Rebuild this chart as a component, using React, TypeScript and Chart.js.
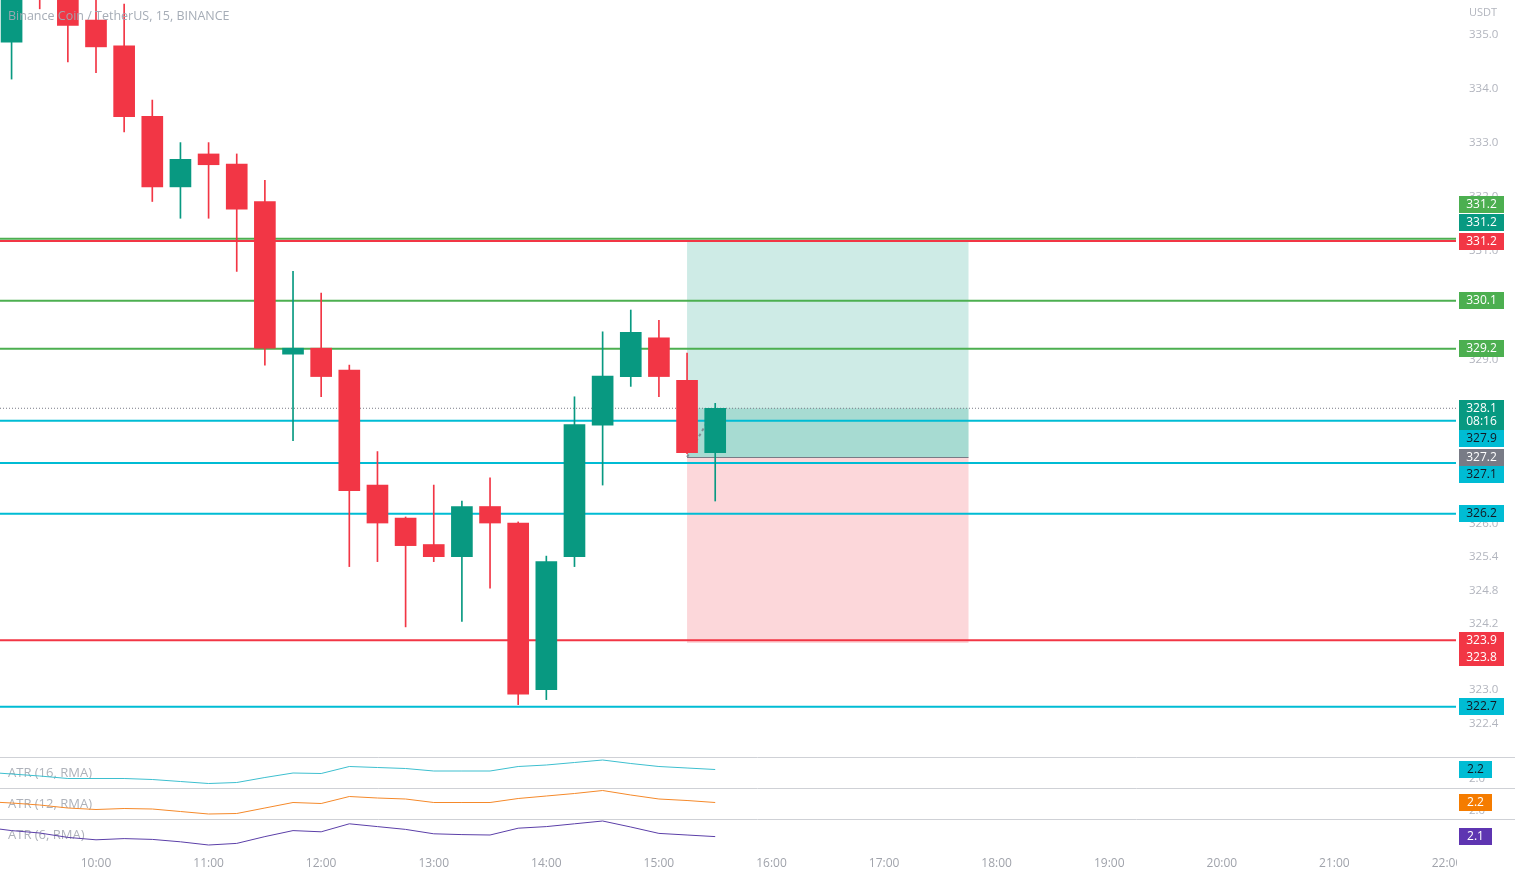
import React, { useEffect, useRef } from "react";
import { Chart, registerables } from "chart.js";

Chart.register(...registerables);

// ---------------- data ----------------
const candleTimes = ["09:15","09:30","09:45","10:00","10:15","10:30","10:45","11:00","11:15","11:30","11:45","12:00","12:15","12:30","12:45","13:00","13:15","13:30","13:45","14:00","14:15","14:30","14:45","15:00","15:15","15:30"];
const opens  = [334.87,336.05,335.85,335.28,334.80,333.49,332.18,332.79,332.60,331.91,329.10,329.21,328.81,326.71,326.11,325.63,325.41,326.32,326.02,323.01,325.41,327.80,328.69,329.40,328.62,327.30];
const highs  = [336.10,336.20,335.95,335.72,335.58,333.79,333.00,333.00,332.79,332.30,330.62,330.22,328.90,327.32,326.13,326.71,326.42,326.84,326.04,325.42,328.32,329.51,329.91,329.72,329.12,328.20];
const lows   = [334.18,335.49,334.50,334.30,333.20,331.91,331.60,331.60,330.62,328.90,327.52,328.32,325.23,325.32,324.14,325.32,324.24,324.84,322.74,322.83,325.23,326.71,328.51,328.32,327.28,326.42];
const closes = [335.75,335.75,335.18,334.78,333.48,332.18,332.69,332.59,331.77,329.21,329.21,328.69,326.61,326.02,325.61,325.41,326.32,326.02,322.93,325.32,327.81,328.70,329.50,328.69,327.30,328.11];

const atrTimes = ["09:00", ...candleTimes];
const atr16 = [2.14,2.10,2.06,2.01,2.01,2.01,1.99,1.95,1.91,1.93,2.03,2.12,2.11,2.25,2.23,2.21,2.16,2.16,2.16,2.25,2.28,2.33,2.38,2.31,2.25,2.22,2.19];
const atr12 = [2.19,2.16,2.12,2.06,2.03,2.05,2.04,1.99,1.94,1.95,2.06,2.17,2.15,2.29,2.26,2.24,2.17,2.17,2.17,2.25,2.30,2.35,2.41,2.32,2.24,2.21,2.17];
const atr6  = [2.35,2.26,2.20,2.09,2.03,2.06,2.04,1.98,1.90,1.94,2.11,2.26,2.23,2.43,2.36,2.29,2.18,2.16,2.15,2.32,2.36,2.43,2.50,2.35,2.19,2.15,2.11];

const hourTicks = ["10:00","11:00","12:00","13:00","14:00","15:00","16:00","17:00","18:00","19:00","20:00","21:00","22:00"];
const priceTicks = [335.0, 334.0, 333.0, 332.0, 331.0, 329.0, 326.0, 325.4, 324.8, 324.2, 323.0, 322.4];
const atrTicks = [2.0];

const greenLevels = [331.22, 330.08, 329.2];
const redLevels = [331.18, 323.9];
const cyanLevels = [327.88, 327.11, 326.19, 322.7];

const targetPrice = 331.2;
const entryPrice = 327.22;
const stopPrice = 323.849;
const positionStart = "15:15";
const positionEnd = "17:45";
const countdown = "08:16";

const titleText = "Binance Coin / TetherUS, 15, BINANCE";
const currencyText = "USDT";
const atrNames = ["ATR (16, RMA)", "ATR (12, RMA)", "ATR (6, RMA)"];

// ---------------- style ----------------
const W = 1515;
const H = 877;
const UP = "#089981";
const DOWN = "#f23645";
const GREEN = "#4caf50";
const CYAN = "#00bcd4";
const GRAY = "#787b86";
const DARK = "#131722";
const C16 = "#3dbfcf";
const C12 = "#f5892a";
const C6 = "#5b3fa8";
const FONT = "'Open Sans', sans-serif";
const TICK_COLOR = "#b2b5be";

const baseMin = (() => { const [h, m] = candleTimes[0].split(":").map(Number); return h * 60 + m; })();
const toIdx = (t: string) => { const [h, m] = t.split(":").map(Number); return (h * 60 + m - baseMin) / 15; };

const X_MIN = -0.411;
const X_MAX = 51.32;

const zeroPad = (s: any) => {
  s.paddingTop = 0;
  s.paddingBottom = 0;
  s.paddingLeft = 0;
  s.paddingRight = 0;
};

export default function App() {
  const ref = useRef<HTMLCanvasElement>(null);

  useEffect(() => {
    const canvas = ref.current!;
    const idxs = candleTimes.map(toIdx);
    const colors = idxs.map((_, i) => (closes[i] >= opens[i] ? UP : DOWN));
    const last = candleTimes.length - 1;
    const current = closes[last];

    const hline = (v: number, color: string, extra: any = {}) => ({
      type: "line",
      data: [{ x: X_MIN, y: v }, { x: X_MAX, y: v }],
      borderColor: color,
      borderWidth: 2,
      pointRadius: 0,
      order: 4,
      yAxisID: "y",
      ...extra,
    });
    const atrLine = (vals: number[], color: string, axis: string) => ({
      type: "line",
      data: atrTimes.map((t, i) => ({ x: toIdx(t), y: vals[i] })),
      borderColor: color,
      borderWidth: 1,
      pointRadius: 0,
      tension: 0,
      order: 3,
      yAxisID: axis,
    });

    const overlay = {
      id: "overlay",
      beforeDatasetsDraw(chart: any) {
        const { ctx, chartArea } = chart;
        const x = chart.scales.x;
        const y = chart.scales.y;
        // position box
        ctx.save();
        ctx.beginPath();
        ctx.rect(chartArea.left, y.top, chartArea.right - chartArea.left, y.bottom - y.top);
        ctx.clip();
        const x0 = x.getPixelForValue(toIdx(positionStart));
        const x1 = x.getPixelForValue(toIdx(positionEnd));
        const yT = y.getPixelForValue(targetPrice);
        const yE = y.getPixelForValue(entryPrice);
        const yS = y.getPixelForValue(stopPrice);
        const yC = y.getPixelForValue(current);
        ctx.fillStyle = "rgba(8,153,129,0.2)";
        ctx.fillRect(x0, yT, x1 - x0, yE - yT);
        ctx.fillStyle = "rgba(242,54,69,0.2)";
        ctx.fillRect(x0, yE, x1 - x0, yS - yE);
        ctx.fillStyle = "rgba(8,153,129,0.2)";
        ctx.fillRect(x0, Math.min(yC, yE), x1 - x0, Math.abs(yE - yC));
        ctx.strokeStyle = GRAY;
        ctx.lineWidth = 1;
        ctx.beginPath();
        ctx.moveTo(x0, Math.round(yE) + 0.5);
        ctx.lineTo(x1, Math.round(yE) + 0.5);
        ctx.stroke();
        ctx.restore();

        // pane separators + ATR titles
        ctx.save();
        ctx.strokeStyle = "#cfd1d6";
        ctx.lineWidth = 1;
        const panes = ["atr16", "atr12", "atr6"];
        panes.forEach((id, k) => {
          const s = chart.scales[id];
          ctx.beginPath();
          ctx.moveTo(0, Math.round(s.top) + 0.5);
          ctx.lineTo(W, Math.round(s.top) + 0.5);
          ctx.stroke();
          ctx.fillStyle = "rgba(165,170,178,0.9)";
          ctx.font = `13px ${FONT}`;
          ctx.textAlign = "left";
          ctx.textBaseline = "middle";
          ctx.fillText(atrNames[k], 8, s.top + 16);
        });
        ctx.restore();
      },
      afterDraw(chart: any) {
        const { ctx, chartArea } = chart;
        const y = chart.scales.y;
        ctx.save();
        // cover x labels overflowing into the price-scale corner
        ctx.fillStyle = "#ffffff";
        ctx.fillRect(chartArea.right + 1, chartArea.bottom + 1, W - chartArea.right, H - chartArea.bottom);

        // title
        ctx.font = `12.5px ${FONT}`;
        ctx.fillStyle = "rgba(160,168,178,0.95)";
        ctx.textAlign = "left";
        ctx.textBaseline = "middle";
        ctx.fillText(titleText, 8, 16);

        // currency
        ctx.font = `11px ${FONT}`;
        ctx.fillStyle = TICK_COLOR;
        ctx.textAlign = "center";
        ctx.fillText(currencyText, chartArea.right + 27, 13);

        // price tags
        const TAG_X = chartArea.right + 3;
        const TAG_W = 45;
        const TAG_H = 17;
        type Tag = { v: number; bg: string; fg: string; lines?: string[]; slot?: number; w?: number };
        const tags: Tag[] = [
          { v: greenLevels[0], bg: GREEN, fg: "#fff", slot: -2 },
          { v: targetPrice, bg: UP, fg: "#fff", slot: -1 },
          { v: redLevels[0], bg: DOWN, fg: "#fff", slot: 0 },
          { v: greenLevels[1], bg: GREEN, fg: "#fff" },
          { v: greenLevels[2], bg: GREEN, fg: "#fff" },
          { v: current, bg: UP, fg: "#fff", lines: [current.toFixed(1), countdown] },
          { v: cyanLevels[0], bg: CYAN, fg: DARK },
          { v: entryPrice, bg: GRAY, fg: "#fff" },
          { v: cyanLevels[1], bg: CYAN, fg: DARK },
          { v: cyanLevels[2], bg: CYAN, fg: DARK },
          { v: redLevels[1], bg: DOWN, fg: "#fff" },
          { v: stopPrice, bg: DOWN, fg: "#fff" },
          { v: cyanLevels[3], bg: CYAN, fg: DARK },
        ];
        const drawTag = (t: Tag, anchorY: number) => {
          const lines = t.lines || [t.v.toFixed(1)];
          const h = TAG_H + (lines.length - 1) * 13;
          const top = anchorY - 8.5;
          const w = t.w || TAG_W;
          ctx.fillStyle = t.bg;
          ctx.fillRect(TAG_X, Math.round(top), w, h);
          ctx.fillStyle = t.fg;
          ctx.font = `12px ${FONT}`;
          ctx.textAlign = "center";
          ctx.textBaseline = "middle";
          lines.forEach((s, i) => ctx.fillText(s, TAG_X + w / 2, Math.round(top) + 8.5 + i * 13.5));
          return top + h;
        };
        tags.filter((t) => t.slot !== undefined).forEach((t) => drawTag(t, y.getPixelForValue(t.v) + (t.slot as number) * TAG_H));
        const rest = tags
          .filter((t) => t.slot === undefined)
          .map((t, k) => ({ t, k, py: y.getPixelForValue(t.v) }))
          .sort((a, b) => a.py - b.py || a.k - b.k);
        let prevBottom = -Infinity;
        rest.forEach(({ t, py }) => {
          const anchor = Math.max(py, prevBottom + 8.5);
          prevBottom = drawTag(t, anchor);
        });

        // ATR tags
        const atrSets: [number[], string, string, string][] = [
          [atr16, "atr16", CYAN, DARK],
          [atr12, "atr12", "#f57c00", "#fff"],
          [atr6, "atr6", "#5e35b1", "#fff"],
        ];
        atrSets.forEach(([vals, id, bg, fg]) => {
          const s = chart.scales[id];
          const v = vals[vals.length - 1];
          drawTag({ v, bg, fg, w: 33 }, s.getPixelForValue(v));
        });
        ctx.restore();
      },
    };

    const yAxisCommon = (extra: any) => ({
      position: "right",
      stack: "panes",
      grid: { display: false, drawTicks: false },
      border: { display: false },
      ticks: {
        autoSkip: false,
        padding: 13,
        color: TICK_COLOR,
        font: { family: FONT, size: 11.5 },
        callback: (v: number) => Number(v).toFixed(1),
      },
      afterFit: (s: any) => { s.width = 59; zeroPad(s); },
      ...extra,
    });

    const chart = new Chart(canvas, {
      type: "bar",
      data: {
        datasets: [
          {
            type: "bar",
            data: idxs.map((x, i) => ({ x, y: [opens[i], closes[i]] })),
            backgroundColor: colors,
            barThickness: 21,
            grouped: false,
            order: 0,
            yAxisID: "y",
          },
          {
            type: "bar",
            data: idxs.map((x, i) => ({ x, y: [lows[i], highs[i]] })),
            backgroundColor: colors,
            barThickness: 1,
            grouped: false,
            order: 1,
            yAxisID: "y",
          },
          {
            type: "line",
            data: [
              { x: toIdx(positionStart), y: entryPrice },
              { x: idxs[last], y: current },
            ],
            borderColor: "rgba(120,123,134,0.8)",
            borderDash: [3, 3],
            borderWidth: 2,
            pointRadius: 0,
            order: 2,
            yAxisID: "y",
          },
          ...redLevels.map((v) => hline(v, DOWN)),
          ...greenLevels.map((v) => hline(v, GREEN)),
          ...cyanLevels.map((v) => hline(v, CYAN)),
          hline(current, "#787b86", { borderWidth: 1, borderDash: [1, 2] }),
          atrLine(atr16, C16, "atr16"),
          atrLine(atr12, C12, "atr12"),
          atrLine(atr6, C6, "atr6"),
        ] as any,
      },
      options: {
        animation: false,
        responsive: false,
        devicePixelRatio: 1,
        layout: { padding: 0 },
        plugins: { legend: { display: false }, tooltip: { enabled: false }, title: { display: false } },
        scales: {
          x: {
            type: "linear",
            min: X_MIN,
            max: X_MAX,
            offset: false,
            grid: { display: false, drawTicks: false },
            border: { display: false },
            afterBuildTicks: (s: any) => { s.ticks = hourTicks.map((t) => ({ value: toIdx(t) })); },
            afterFit: (s: any) => { s.height = 27; zeroPad(s); },
            ticks: {
              autoSkip: false,
              maxRotation: 0,
              padding: 6,
              color: "#a0a3ab",
              font: { family: FONT, size: 12 },
              callback: (v: number) => {
                const t = hourTicks.find((h) => Math.abs(toIdx(h) - v) < 1e-6);
                return t || "";
              },
            },
          },
          y: yAxisCommon({
            type: "logarithmic",
            min: 321.8,
            max: 335.655,
            stackWeight: 757,
            afterBuildTicks: (s: any) => { s.ticks = priceTicks.map((v) => ({ value: v })); },
          }),
          atr16: yAxisCommon({
            min: 1.82,
            max: 2.44,
            stackWeight: 31,
            afterBuildTicks: (s: any) => { s.ticks = atrTicks.map((v) => ({ value: v })); },
          }),
          atr12: yAxisCommon({
            min: 1.84,
            max: 2.46,
            stackWeight: 31,
            afterBuildTicks: (s: any) => { s.ticks = atrTicks.map((v) => ({ value: v })); },
          }),
          atr6: yAxisCommon({
            min: 1.775,
            max: 2.55,
            stackWeight: 31,
            ticks: { display: false },
          }),
        },
      } as any,
      plugins: [overlay],
    });
    return () => chart.destroy();
  }, []);

  return (
    <div style={{ position: "absolute", left: 0, top: 0, width: W, height: H, background: "#ffffff" }}>
      <canvas ref={ref} width={W} height={H} style={{ display: "block", width: W, height: H }} />
    </div>
  );
}
